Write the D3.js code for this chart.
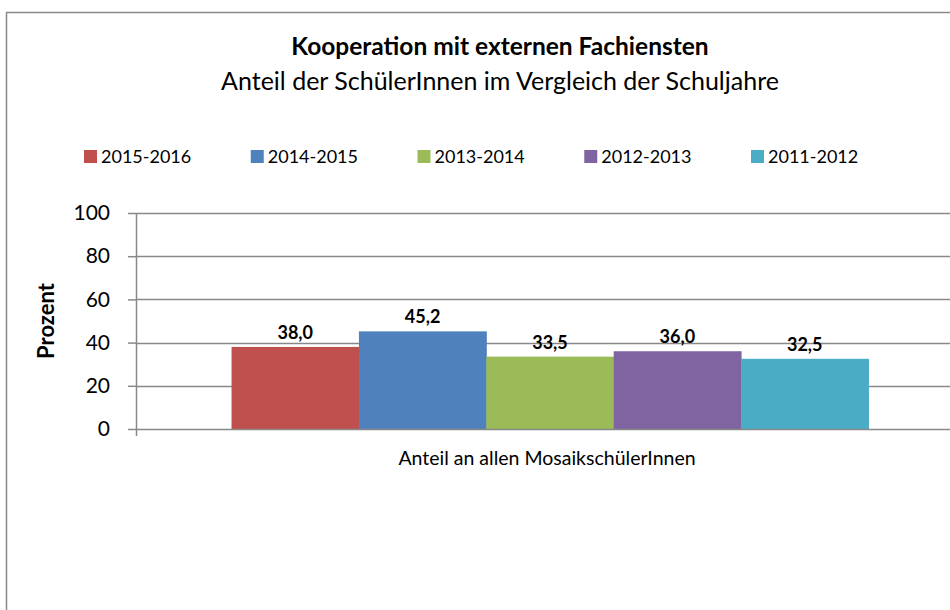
<!DOCTYPE html>
<html>
<head>
<meta charset="utf-8">
<script src="https://cdn.jsdelivr.net/npm/d3@7"></script>
<style>
  html, body { margin: 0; padding: 0; background: #fff; }
  svg { display: block; font-family: Lato, "Open Sans", sans-serif; }
</style>
</head>
<body>
<svg id="chart" width="950" height="610"></svg>
<script>
// Chart content
const title = "Kooperation mit externen Fachiensten";
const subtitle = "Anteil der SchülerInnen im Vergleich der Schuljahre";
const category = ["Anteil an allen MosaikschülerInnen"];
const seriesNames = ["2015-2016", "2014-2015", "2013-2014", "2012-2013", "2011-2012"];
const seriesValues = [38.0, 45.2, 33.5, 36.0, 32.5];
const seriesColors = ["#C0504D", "#4F81BD", "#9BBB59", "#8064A2", "#4BACC6"];
const yTicks = [0, 20, 40, 60, 80, 100];
const yLabel = "Prozent";

const svg = d3.select("#chart");
const axisGrey = "#888888";

// Outer chart frame
svg.append("path")
  .attr("d", "M6.5,610 V12.5 H950")
  .attr("fill", "none")
  .attr("stroke", axisGrey)
  .attr("stroke-width", 1.5);

// Plot area
const plot = { left: 136, right: 964, top: 213, bottom: 429 };

const y = d3.scaleLinear().domain([0, 100]).range([plot.bottom, plot.top]);
const x0 = d3.scaleBand().domain(category).range([plot.left, plot.right]).paddingInner(0).paddingOuter(0);
// gap width of 150% of a bar: 5 bars + 1.5 bar gap
const groupPad = 1.5 / 6.5;
const x1 = d3.scaleBand().domain(seriesNames)
  .range([x0(category[0]) + x0.bandwidth() * groupPad / 2,
          x0(category[0]) + x0.bandwidth() * (1 - groupPad / 2)])
  .padding(0);

// Gridlines
svg.append("g")
  .selectAll("line")
  .data(yTicks.filter(t => t > 0))
  .join("line")
  .attr("x1", plot.left).attr("x2", 950)
  .attr("y1", d => Math.round(y(d)) + 0.5).attr("y2", d => Math.round(y(d)) + 0.5)
  .attr("stroke", axisGrey).attr("stroke-width", 1.5);

// Bars
svg.append("g")
  .selectAll("rect")
  .data(seriesNames.map((n, i) => ({ name: n, value: seriesValues[i], color: seriesColors[i] })))
  .join("rect")
  .attr("x", d => x1(d.name))
  .attr("width", x1.bandwidth() + 0.5)
  .attr("y", d => y(d.value))
  .attr("height", d => y(0) - y(d.value))
  .attr("fill", d => d.color);

// Value labels
const fmt = v => v.toFixed(1).replace(".", ",");
svg.append("g")
  .selectAll("text")
  .data(seriesNames.map((n, i) => ({ name: n, value: seriesValues[i] })))
  .join("text")
  .attr("x", d => x1(d.name) + x1.bandwidth() / 2)
  .attr("y", d => y(d.value) - 8)
  .attr("text-anchor", "middle")
  .attr("font-size", 18)
  .attr("font-weight", "bold")
  .attr("fill", "#000")
  .text(d => fmt(d.value));

// Y axis
const yAxis = svg.append("g")
  .attr("transform", `translate(${plot.left},0)`)
  .call(d3.axisLeft(y).tickValues(yTicks).tickSize(8).tickPadding(18));
yAxis.select(".domain").attr("stroke", axisGrey).attr("stroke-width", 1.5)
  .attr("d", `M0.5,${plot.top}V${plot.bottom + 7}`);
yAxis.selectAll(".tick line").attr("stroke", axisGrey).attr("stroke-width", 1.5);
yAxis.selectAll(".tick text")
  .attr("font-size", 21).attr("font-family", "Lato, sans-serif").attr("fill", "#000");

// X axis baseline
svg.append("line")
  .attr("x1", plot.left).attr("x2", 950)
  .attr("y1", y(0) + 0.5).attr("y2", y(0) + 0.5)
  .attr("stroke", axisGrey).attr("stroke-width", 1.5);

// Category label
svg.append("text")
  .attr("x", x0(category[0]) + x0.bandwidth() / 2 - 3)
  .attr("y", 465)
  .attr("text-anchor", "middle")
  .attr("font-size", 19.5)
  .attr("fill", "#000")
  .text(category[0]);

// Y axis title
svg.append("text")
  .attr("transform", `translate(54,${(plot.top + plot.bottom) / 2}) rotate(-90)`)
  .attr("text-anchor", "middle")
  .attr("font-size", 22)
  .attr("font-weight", "bold")
  .text(yLabel);

// Titles
svg.append("text")
  .attr("x", 500).attr("y", 55)
  .attr("text-anchor", "middle")
  .attr("font-size", 24.5).attr("font-weight", "bold")
  .text(title);
svg.append("text")
  .attr("x", 500).attr("y", 90)
  .attr("text-anchor", "middle")
  .attr("font-size", 25)
  .text(subtitle);

// Legend
const legendX = d3.scalePoint().domain(seriesNames).range([84, 751]);
const legend = svg.append("g").selectAll("g")
  .data(seriesNames.map((n, i) => ({ name: n, color: seriesColors[i] })))
  .join("g")
  .attr("transform", d => `translate(${legendX(d.name)},150)`);
legend.append("rect").attr("width", 13).attr("height", 13).attr("fill", d => d.color);
legend.append("text")
  .attr("x", 17).attr("y", 13)
  .attr("font-size", 18)
  .text(d => d.name);
</script>
</body>
</html>
